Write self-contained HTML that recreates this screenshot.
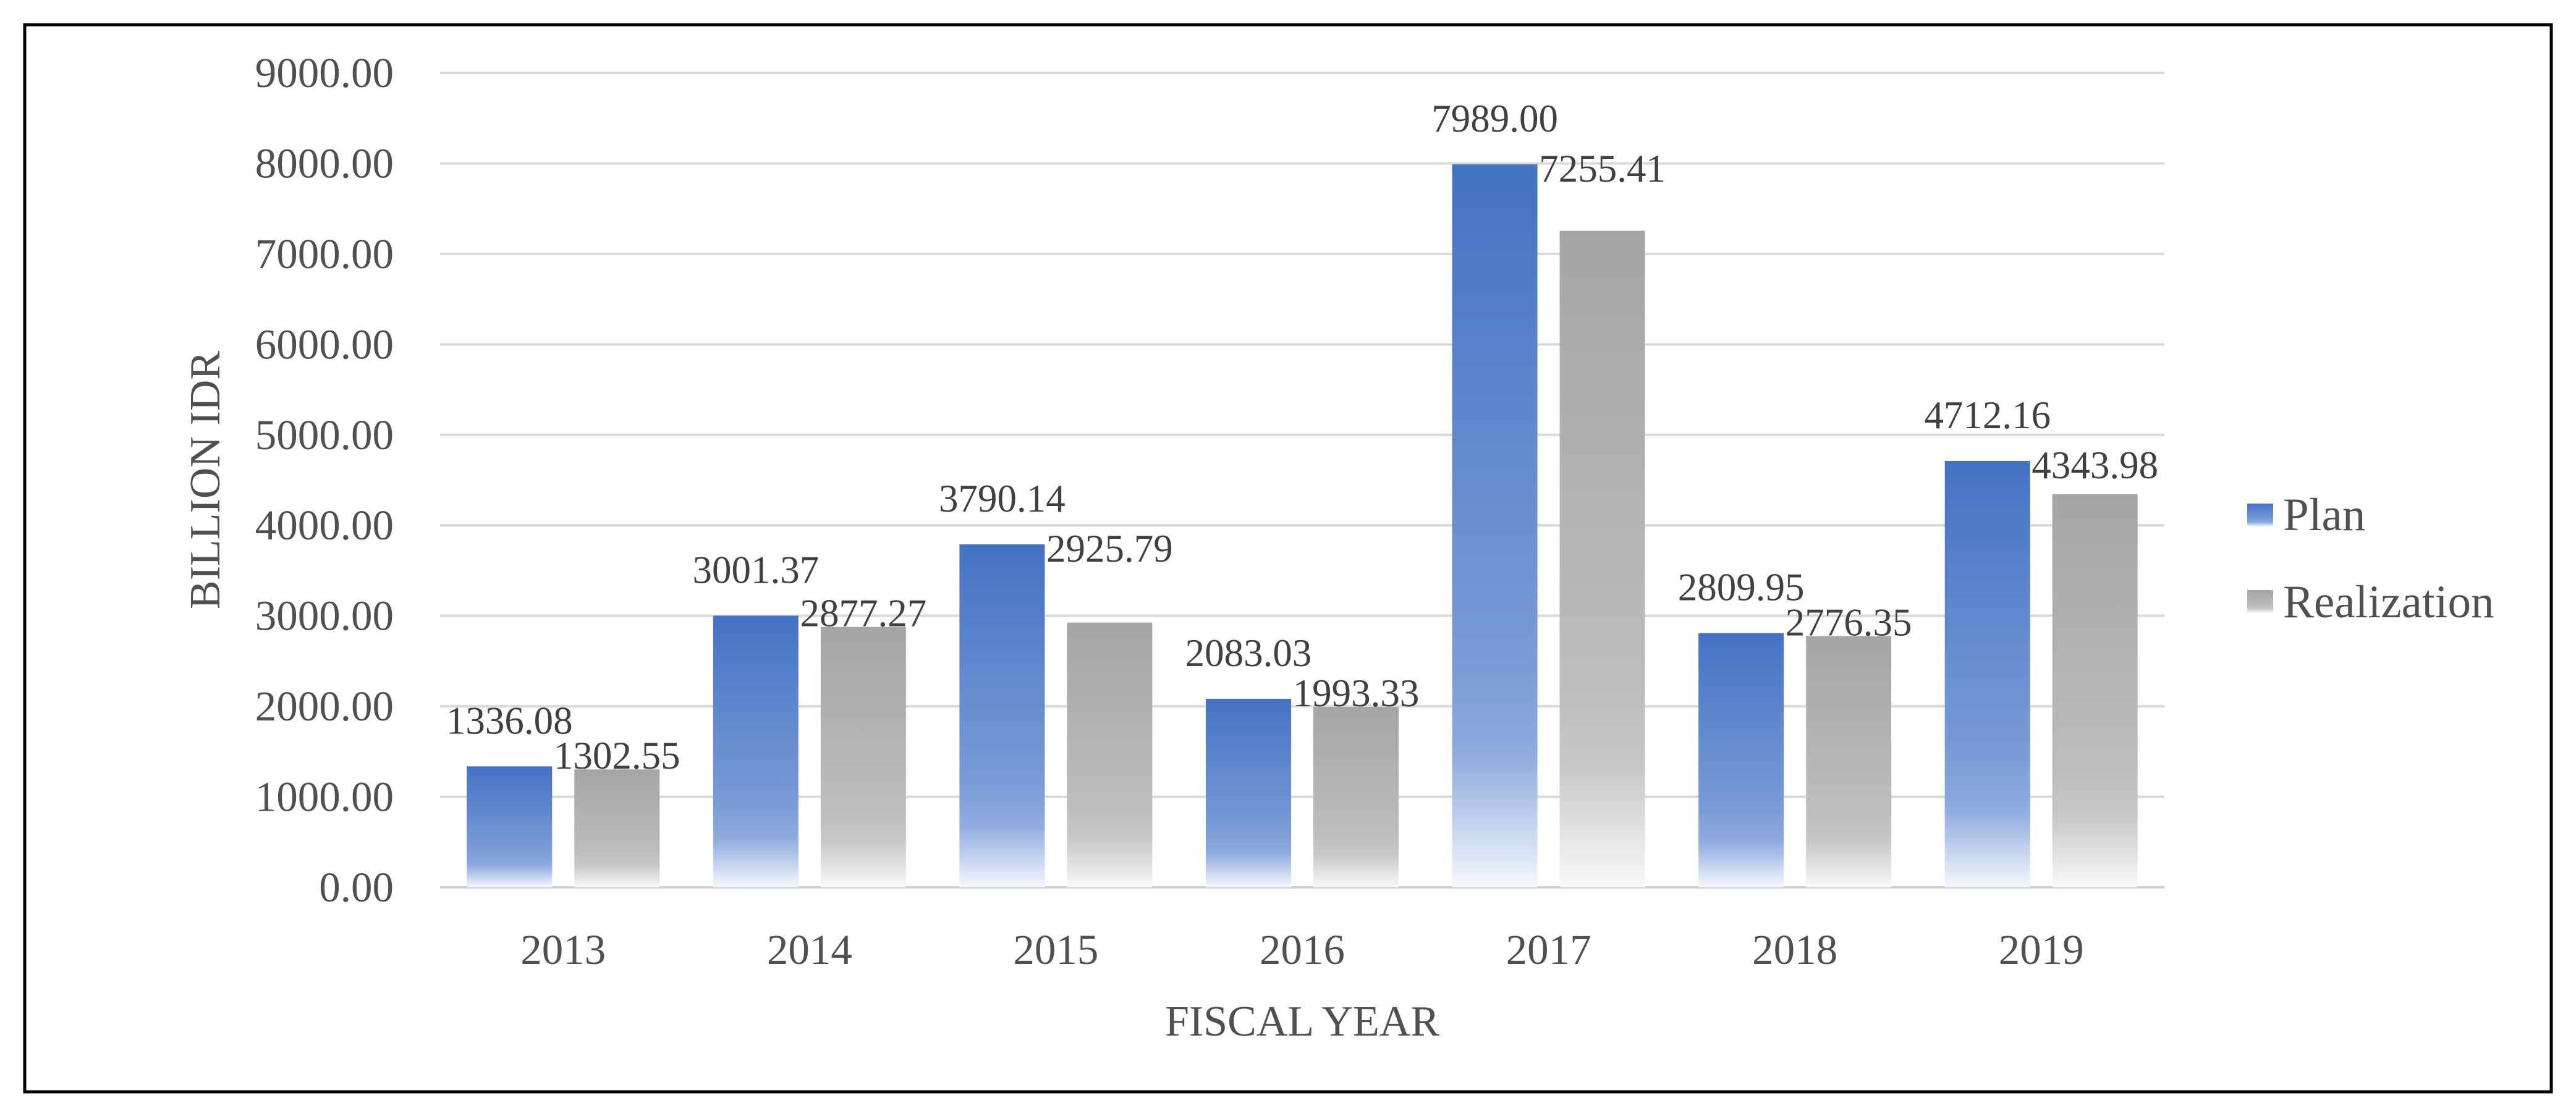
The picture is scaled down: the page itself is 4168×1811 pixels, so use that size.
<!DOCTYPE html>
<html><head><meta charset="utf-8"><style>
html,body{margin:0;padding:0;background:#fff;}
svg{display:block;}
text{font-family:"Liberation Serif",serif;fill:#505050;}
</style></head><body>
<svg id="chart" width="4168" height="1811" viewBox="0 0 4168 1811" xmlns="http://www.w3.org/2000/svg">
<defs>
<linearGradient id="gPlan" x1="0" y1="0" x2="0" y2="1">
<stop offset="0" stop-color="#4472c4"/><stop offset="0.7" stop-color="#7a9cd6"/><stop offset="0.82" stop-color="#8fabdf"/><stop offset="1" stop-color="#f5f8fd"/>
</linearGradient>
<linearGradient id="gReal" x1="0" y1="0" x2="0" y2="1">
<stop offset="0" stop-color="#a5a5a5"/><stop offset="0.7" stop-color="#bdbdbd"/><stop offset="0.82" stop-color="#c8c8c8"/><stop offset="1" stop-color="#f9f9f9"/>
</linearGradient>
</defs>
<rect x="40" y="40" width="4088" height="1727" fill="#fff" stroke="#000" stroke-width="5"/>
<g id="grid"></g>
<g id="bars"></g>
<g id="labels"></g>
<text x="339" y="777" font-size="70" text-anchor="middle" dominant-baseline="middle" transform="rotate(-90 339 777)">BILLION IDR</text>
<text x="2107" y="1676" font-size="70" text-anchor="middle">FISCAL YEAR</text>
<g>
<rect x="3636" y="815" width="42" height="37" fill="url(#gPlan)"/>
<text x="3694" y="858" font-size="75">Plan</text>
<rect x="3636" y="955" width="42" height="37" fill="url(#gReal)"/>
<text x="3694" y="999" font-size="75">Realization</text>
</g>
</svg>
<script>
const categories = ["2013","2014","2015","2016","2017","2018","2019"];
const planValues = [1336.08,3001.37,3790.14,2083.03,7989.00,2809.95,4712.16];
const realValues = [1302.55,2877.27,2925.79,1993.33,7255.41,2776.35,4343.98];
const yTicks = [0,1000,2000,3000,4000,5000,6000,7000,8000,9000];

const NS="http://www.w3.org/2000/svg";
const plotL=712, plotR=3502, plotTop=118, plotBot=1436, yMax=9000;
const bandW=(plotR-plotL)/categories.length;
function yScale(v){return plotBot-(v/yMax)*(plotBot-plotTop);}
function xCenter(i){return plotL+(i+0.5)*bandW;}
function mk(tag,attrs,parent){const e=document.createElementNS(NS,tag);for(const k in attrs)e.setAttribute(k,attrs[k]);parent.appendChild(e);return e;}
const grid=document.getElementById('grid'),bars=document.getElementById('bars'),labels=document.getElementById('labels');
yTicks.forEach(t=>{
  const y=yScale(t);
  const l=mk('line',{x1:plotL,x2:plotR,y1:y,y2:y,stroke:t===0?'#d0d0d0':'#d9d9d9','stroke-width':4},grid);
  
  
  const tx=mk('text',{x:637,y:y+23,'font-size':69,'text-anchor':'end'},grid);
  tx.textContent=t.toFixed(2);
  
  
});
const bw=138, gap=18;
categories.forEach((c,i)=>{
  const cx=xCenter(i);
  const pTop=yScale(planValues[i]), rTop=yScale(realValues[i]);
  const pb=mk('rect',{x:cx-gap-bw,y:pTop,width:bw,height:plotBot-pTop,fill:'url(#gPlan)'},bars);
  
  
  const rb=mk('rect',{x:cx+gap,y:rTop,width:bw,height:plotBot-rTop,fill:'url(#gReal)'},bars);
  
  
  const pl=mk('text',{x:cx-gap-bw/2,y:pTop-74+21,'font-size':63,'text-anchor':'middle'},labels);
  pl.textContent=planValues[i].toFixed(2);
  pl.style.fill='#404040';
  
  
  const rc=Math.min(rTop-22,pTop+7);
  const rl=mk('text',{x:cx+gap+bw/2,y:rc+21,'font-size':63,'text-anchor':'middle'},labels);
  rl.textContent=realValues[i].toFixed(2);
  rl.style.fill='#404040';
  
  
  const xl=mk('text',{x:cx,y:1560,'font-size':69,'text-anchor':'middle'},labels);
  xl.textContent=c;
  
  
});
</script>
</body></html>
